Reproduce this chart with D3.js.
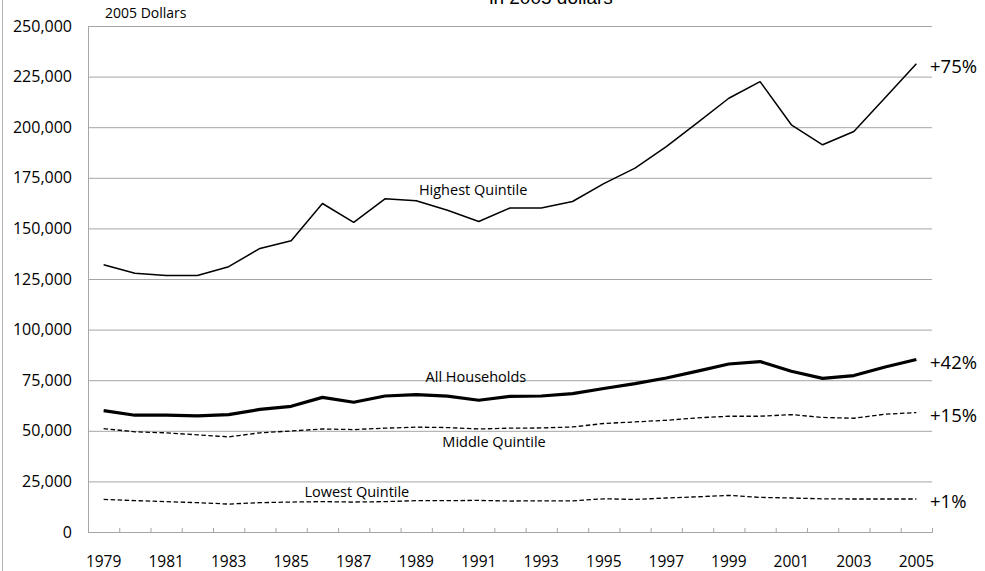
<!DOCTYPE html>
<html>
<head>
<meta charset="utf-8">
<script src="https://cdn.jsdelivr.net/npm/d3@7"></script>
<style>
  body { margin: 0; background: #fff; }
  svg { display: block; font-family: "Open Sans", sans-serif; }
</style>
</head>
<body>
<svg id="chart" width="985" height="571"></svg>
<script>
// household income by quintile, 2005 dollars
var years = d3.range(1979, 2006);
var highest = [132000, 127800, 126700, 126700, 131100, 140100, 143900, 162300, 153000, 164600,
    163700, 159000, 153400, 160100, 160100, 163300, 172100, 179800, 190400, 202300,
    214300, 222500, 201200, 191300, 197900, 214600, 231400];
var allHouseholds = [60000, 57700, 57700, 57400, 58000, 60600, 62100, 66500, 64100, 67200,
    67900, 67100, 65100, 67000, 67200, 68400, 70900, 73300, 76100, 79500,
    83000, 84200, 79400, 75900, 77300, 81500, 85200];
var middle = [51100, 49500, 49000, 48000, 47000, 49000, 49900, 50900, 50600, 51300,
    51800, 51600, 50900, 51300, 51400, 51900, 53600, 54400, 55200, 56400,
    57200, 57200, 58000, 56600, 56200, 58200, 59000];
var lowest = [16100, 15500, 15000, 14500, 13800, 14500, 14800, 15000, 14800, 15000,
    15500, 15500, 15600, 15300, 15400, 15400, 16400, 16100, 16800, 17400,
    18100, 17100, 16800, 16400, 16300, 16300, 16300];
var yTicks = [0, 25000, 50000, 75000, 100000, 125000, 150000, 175000, 200000, 225000, 250000];
var yearLabels = years.filter(function(y) { return y % 2 === 1; });

var series = [
    { name: "Highest Quintile", values: highest, width: 1.5, dash: null, change: "+75%", labelAt: 1990.82, labelVal: 166500 },
    { name: "All Households", values: allHouseholds, width: 3.2, dash: null, change: "+42%", labelAt: 1990.91, labelVal: 74200 },
    { name: "Middle Quintile", values: middle, width: 1.3, dash: "4.5,2.5", change: "+15%", labelAt: 1991.49, labelVal: 42000 },
    { name: "Lowest Quintile", values: lowest, width: 1.3, dash: "4.5,2.5", change: "+1%", labelAt: 1987.1, labelVal: 17300 }
];

var svg = d3.select("#chart");
var plotLeft = 88, plotRight = 932, plotTop = 26, plotBottom = 532;

var x = d3.scaleLinear().domain([1978.5, 2005.5]).range([plotLeft, plotRight]);
var y = d3.scaleLinear().domain([0, 250000]).range([plotBottom, plotTop]);

// chart area border (left edge only visible)
svg.append("line")
    .attr("x1", 2.5).attr("x2", 2.5).attr("y1", 0).attr("y2", 571)
    .attr("stroke", "#b5b5b5").attr("stroke-width", 1);

// title, cut off at the top
svg.append("text")
    .attr("x", 551).attr("y", 4)
    .attr("text-anchor", "middle")
    .style("font-family", "'Liberation Sans', Arial, sans-serif")
    .style("font-size", "19px")
    .text("in 2005 dollars");

// gridlines + y labels
var yAxis = svg.append("g")
    .attr("transform", "translate(" + plotLeft + ",0)")
    .call(d3.axisLeft(y).tickValues(yTicks).tickSize(-(plotRight - plotLeft)).tickFormat(d3.format(",")));
yAxis.select(".domain").attr("stroke", "#a6a6a6");
yAxis.selectAll(".tick line").attr("stroke", "#a6a6a6").attr("stroke-width", 1);
yAxis.selectAll(".tick text")
    .attr("x", -16)
    .style("font-family", "'Open Sans', sans-serif")
    .style("font-size", "16px").attr("fill", "#000");

// x axis: tick marks at category edges, labels on odd years
var xAxis = svg.append("g")
    .attr("transform", "translate(0," + plotBottom + ")")
    .call(d3.axisBottom(x).tickValues(d3.range(1978.5, 2006, 1)).tickSize(-4).tickFormat(""));
xAxis.select(".domain").attr("stroke", "#a6a6a6");
xAxis.selectAll(".tick line").attr("stroke", "#a6a6a6");

svg.append("g").selectAll("text")
    .data(yearLabels)
    .join("text")
    .attr("x", function(d) { return x(d); })
    .attr("y", 567)
    .attr("text-anchor", "middle")
    .style("font-size", "15.5px")
    .text(function(d) { return d; });

svg.append("text")
    .attr("x", 105).attr("y", 18)
    .style("font-size", "14px")
    .text("2005 Dollars");

// lines
var line = d3.line()
    .x(function(d, i) { return x(years[i]); })
    .y(function(d) { return y(d); });

svg.append("g").selectAll("path")
    .data(series)
    .join("path")
    .attr("d", function(s) { return line(s.values); })
    .attr("fill", "none")
    .attr("stroke", "#000")
    .attr("stroke-width", function(s) { return s.width; })
    .attr("stroke-dasharray", function(s) { return s.dash; })
    .attr("stroke-linejoin", "round");

// series names
svg.append("g").selectAll("text")
    .data(series)
    .join("text")
    .attr("x", function(s) { return x(s.labelAt); })
    .attr("y", function(s) { return y(s.labelVal); })
    .attr("text-anchor", "middle")
    .style("font-size", "14.5px")
    .text(function(s) { return s.name; });

// change labels at line ends
svg.append("g").selectAll("text")
    .data(series)
    .join("text")
    .attr("x", 930)
    .attr("y", function(s) { return y(s.values[s.values.length - 1]) + 3; })
    .attr("dy", "0.35em")
    .style("font-size", "18.5px")
    .text(function(s) { return s.change; });
</script>
</body>
</html>
